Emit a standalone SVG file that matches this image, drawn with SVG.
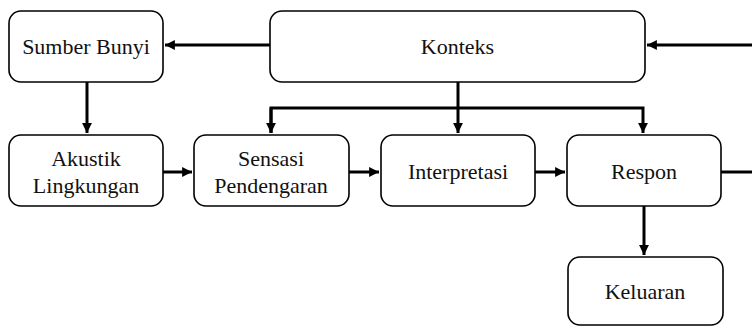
<svg xmlns="http://www.w3.org/2000/svg" width="752" height="326" viewBox="0 0 752 326">
<style>
.box{fill:#fff;stroke:#000;stroke-width:1.6}
.t{font-family:"Liberation Serif","Times New Roman",serif;font-size:22px;fill:#111;text-anchor:middle}
.c{fill:none;stroke:#000;stroke-width:3}
</style>
<defs>
<marker id="ah" viewBox="0 0 10 10" refX="10" refY="5" markerWidth="3.6" markerHeight="3.3" markerUnits="strokeWidth" orient="auto">
<path d="M0,0 L10,5 L0,10 Z" fill="#000"/>
</marker>
</defs>
<rect width="752" height="326" fill="#fff"/>
<g id="connectors">
<line class="c" x1="270" y1="45" x2="165" y2="45" marker-end="url(#ah)"/>
<line class="c" x1="752" y1="45" x2="647" y2="45" marker-end="url(#ah)"/>
<line class="c" x1="87" y1="82" x2="87" y2="133" marker-end="url(#ah)"/>
<line class="c" x1="458" y1="82" x2="458" y2="133" marker-end="url(#ah)"/>
<polyline class="c" points="271,133 271,108 643,108 643,133" marker-end="url(#ah)"/>
<line class="c" x1="271" y1="108" x2="271" y2="133" marker-end="url(#ah)"/>
<line class="c" x1="163" y1="172" x2="192" y2="172" marker-end="url(#ah)"/>
<line class="c" x1="349" y1="172" x2="379" y2="172" marker-end="url(#ah)"/>
<line class="c" x1="535" y1="172" x2="565" y2="172" marker-end="url(#ah)"/>
<line class="c" x1="721" y1="172" x2="752" y2="172"/>
<line class="c" x1="644" y1="206" x2="644" y2="255" marker-end="url(#ah)"/>
</g>
<g id="konteks"><rect class="box" x="270" y="11" width="375" height="71" rx="12"/><text class="t" x="457.5" y="54">Konteks</text></g>
<g id="sumber-bunyi"><rect class="box" x="9" y="11" width="154" height="71" rx="12"/><text class="t" x="86" y="54">Sumber Bunyi</text></g>
<g id="akustik"><rect class="box" x="9" y="135" width="154" height="71" rx="12"/><text class="t" x="86" y="166">Akustik</text><text class="t" x="86" y="193">Lingkungan</text></g>
<g id="sensasi"><rect class="box" x="194" y="135" width="155" height="71" rx="12"/><text class="t" x="271" y="166">Sensasi</text><text class="t" x="271" y="193">Pendengaran</text></g>
<g id="interpretasi"><rect class="box" x="381" y="135" width="154" height="71" rx="12"/><text class="t" x="458" y="179">Interpretasi</text></g>
<g id="respon"><rect class="box" x="567" y="135" width="154" height="71" rx="12"/><text class="t" x="644" y="179">Respon</text></g>
<g id="keluaran"><rect class="box" x="568" y="257" width="155" height="68" rx="12"/><text class="t" x="645" y="299">Keluaran</text></g>
</svg>
